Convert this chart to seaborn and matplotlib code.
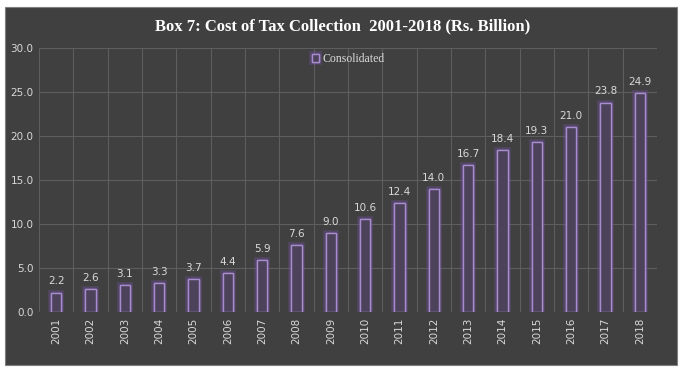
import pandas as pd
import matplotlib.pyplot as plt
import matplotlib.patheffects as pe
import seaborn as sns

years = [str(y) for y in range(2001, 2019)]
cost = [2.2, 2.6, 3.1, 3.3, 3.7, 4.4, 5.9, 7.6, 9.0, 10.6,
        12.4, 14.0, 16.7, 18.4, 19.3, 21.0, 23.8, 24.9]
yticks = [0, 5, 10, 15, 20, 25, 30]

df = pd.DataFrame({"year": years, "cost": cost})

bg = "#404040"
txt = "#d9d9d9"
edge = "#a98bd0"

sns.set_style("dark")
fig = plt.figure(figsize=(6.85, 3.75), dpi=100)
fig.patch.set_facecolor("white")
fig.patches.append(plt.Rectangle((5 / 685, 10 / 375), 672 / 685, 358 / 375,
                                 transform=fig.transFigure, facecolor=bg,
                                 edgecolor="#7f7f7f", lw=0.8, zorder=-5))

ax = fig.add_axes([39 / 685, 1 - 312 / 375, 618 / 685, 264 / 375])
ax.set_facecolor(bg)

sns.barplot(data=df, x="year", y="cost", ax=ax, width=0.3,
            color="#4b3f5e", edgecolor=edge, linewidth=1.0,
            label="Consolidated", zorder=3)
for bar in ax.patches:
    bar.set_path_effects([pe.withStroke(linewidth=4, foreground="#6a4f93", alpha=0.45),
                          pe.Normal()])

for i, v in enumerate(cost):
    ax.text(i, v + 0.7, f"{v:.1f}", ha="center", va="bottom",
            fontsize=7.5, color=txt, family="DejaVu Sans", zorder=4)

ax.set_ylim(0, 30)
ax.set_xlim(-0.5, len(years) - 0.5)
ax.set_yticks(yticks)
ax.set_yticklabels([f"{t:.1f}" for t in yticks])
ax.set_xticks(range(len(years)))
ax.set_xticklabels(years, rotation=90)
ax.tick_params(colors=txt, labelsize=7.5, length=0, pad=4)

ax.grid(False)
for t in yticks:
    ax.axhline(t, color="#5e5e5e", lw=0.8, zorder=1)
for x in range(len(years) + 1):
    ax.axvline(x - 0.5, color="#5e5e5e", lw=0.8, zorder=1)
for s in ax.spines.values():
    s.set_visible(False)
ax.set_xlabel("")
ax.set_ylabel("")

leg = ax.legend(loc="upper center", bbox_to_anchor=(0.5, 1.02), frameon=False,
                handlelength=0.6, handleheight=0.6, handletextpad=0.3,
                prop={"family": "Liberation Serif", "size": 8.5})
for t in leg.get_texts():
    t.set_color(txt)

fig.text(0.5, 1 - 26 / 375, "Box 7: Cost of Tax Collection  2001-2018 (Rs. Billion)",
         ha="center", va="center", color="white", fontsize=12,
         fontweight="bold", family="Liberation Serif")

fig.savefig("out.png", dpi=100)
